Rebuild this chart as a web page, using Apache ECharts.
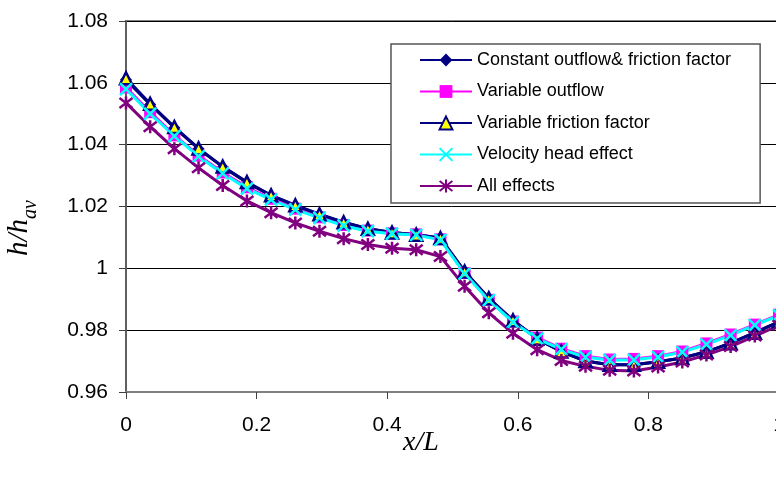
<!DOCTYPE html>
<html>
<head>
<meta charset="utf-8">
<script src="https://cdn.jsdelivr.net/npm/echarts@6/dist/echarts.min.js"></script>
<style>html,body{margin:0;padding:0;background:#fff}#c{width:776px;height:479px}</style>
</head>
<body>
<div id="c"></div>
<script>
var xPositions = [0, 0.0370, 0.0741, 0.1111, 0.1481, 0.1852, 0.2222, 0.2593, 0.2963, 0.3333, 0.3704, 0.4074, 0.4444, 0.4815, 0.5185, 0.5556, 0.5926, 0.6296, 0.6667, 0.7037, 0.7407, 0.7778, 0.8148, 0.8519, 0.8889, 0.9259, 0.9630, 1.0];

var constantOutflow = [1.061, 1.053, 1.0455, 1.0387, 1.0328, 1.0278, 1.0235, 1.0203, 1.0174, 1.0148, 1.0128, 1.0116, 1.0109, 1.0098, 0.999, 0.9903, 0.9832, 0.9772, 0.9731, 0.9700, 0.9688, 0.9688, 0.9698, 0.9710, 0.9730, 0.9758, 0.9792, 0.9827];
var variableOutflow = [1.0585, 1.0505, 1.043, 1.0365, 1.031, 1.0262, 1.0225, 1.0193, 1.0165, 1.014, 1.0122, 1.0113, 1.011, 1.0094, 0.9985, 0.9898, 0.9828, 0.9776, 0.9740, 0.9716, 0.9705, 0.9707, 0.9716, 0.9731, 0.9757, 0.9786, 0.9818, 0.9850];
var variableFriction = [1.0615, 1.0532, 1.0457, 1.0388, 1.0329, 1.0279, 1.0236, 1.0204, 1.0175, 1.0149, 1.0128, 1.0116, 1.0109, 1.0098, 0.999, 0.9903, 0.9832, 0.9772, 0.9731, 0.9700, 0.9688, 0.9688, 0.9698, 0.9710, 0.9730, 0.9758, 0.9792, 0.9827];
var velocityHead = [1.058, 1.050, 1.0428, 1.0362, 1.0307, 1.0258, 1.0222, 1.019, 1.0163, 1.0138, 1.012, 1.0112, 1.0108, 1.0092, 0.9983, 0.9897, 0.9826, 0.9773, 0.9738, 0.9713, 0.9703, 0.9704, 0.9713, 0.9729, 0.9754, 0.9783, 0.9816, 0.9848];
var allEffects = [1.0535, 1.0458, 1.0387, 1.0325, 1.0268, 1.0218, 1.018, 1.0147, 1.012, 1.0096, 1.0077, 1.0065, 1.006, 1.0038, 0.9942, 0.9856, 0.979, 0.9737, 0.9702, 0.9683, 0.9670, 0.9668, 0.9681, 0.9697, 0.9720, 0.9747, 0.9781, 0.9816];

var seriesNames = ['Constant outflow& friction factor', 'Variable outflow', 'Variable friction factor', 'Velocity head effect', 'All effects'];
var yTicks = {min: 0.96, max: 1.08, interval: 0.02};
var xTicks = {min: 0, max: 1, interval: 0.2};

function pairs(ys) { return xPositions.map(function (x, i) { return [x, ys[i]]; }); }

var FONT = '"Liberation Sans", Arial, sans-serif';
var chart = echarts.init(document.getElementById('c'), null, {renderer: 'canvas'});

var X_PATH = 'path://M0,0L10,10M10,0L0,10';
var STAR_PATH = 'path://M0,0L10,10M10,0L0,10M5,-1.5L5,11.5';

chart.setOption({
  animation: false,
  backgroundColor: '#ffffff',
  grid: {left: 126, top: 21, right: -3, bottom: 87, show: true, borderColor: '#808080', borderWidth: 2, backgroundColor: '#ffffff',
    outerBoundsMode: 'none', containLabel: false},
  xAxis: {
    type: 'value', min: xTicks.min, max: xTicks.max, interval: xTicks.interval,
    axisLine: {lineStyle: {color: '#808080', width: 2}},
    axisTick: {show: true, length: 7, lineStyle: {color: '#404040', width: 1}},
    axisLabel: {color: '#000', fontSize: 21, fontFamily: FONT, margin: 23},
    splitLine: {show: false}
  },
  yAxis: {
    type: 'value', min: yTicks.min, max: yTicks.max, interval: yTicks.interval,
    axisLine: {show: true, lineStyle: {color: '#606060', width: 2}},
    axisTick: {show: true, length: 7, lineStyle: {color: '#404040', width: 1}},
    axisLabel: {color: '#000', fontSize: 21, fontFamily: FONT, margin: 18},
    splitLine: {show: true, lineStyle: {color: '#000000', width: 1}}
  },
  legend: {
    orient: 'vertical', left: 391, top: 44,
    padding: [5, 29, 6, 28],
    backgroundColor: '#ffffff', borderColor: '#555555', borderWidth: 1.5,
    itemWidth: 52, itemHeight: 16, itemGap: 9.5,
    textStyle: {color: '#000', fontSize: 18, fontFamily: FONT, lineHeight: 22, padding: [0, 0, 0, 0]},
    data: seriesNames
  },
  graphic: [
    {type: 'text', x: 421, y: 443, z: 10,
      style: {text: 'x/L', font: 'italic 28px "Liberation Serif", "Times New Roman", serif', fill: '#000', align: 'center', verticalAlign: 'middle'}},
    {type: 'text', x: 23, y: 228, rotation: Math.PI / 2, z: 10,
      style: {text: '{a|h/h}{b|av}', align: 'center', verticalAlign: 'middle', fill: '#000',
        rich: {
          a: {fontFamily: '"Liberation Serif", "Times New Roman", serif', fontStyle: 'italic', fontSize: 29, lineHeight: 30, verticalAlign: 'top', fill: '#000'},
          b: {fontFamily: '"Liberation Serif", "Times New Roman", serif', fontStyle: 'italic', fontSize: 20, padding: [16, 0, 0, 0], verticalAlign: 'bottom', fill: '#000'}
        }}}
  ],
  series: [
    {name: seriesNames[0], type: 'line', data: pairs(constantOutflow), symbol: 'diamond', symbolSize: 12,
      lineStyle: {color: '#000080', width: 3}, itemStyle: {color: '#000080'}},
    {name: seriesNames[1], type: 'line', data: pairs(variableOutflow), symbol: 'rect', symbolSize: 12,
      lineStyle: {color: '#FF00FF', width: 3}, itemStyle: {color: '#FF00FF'}},
    {name: seriesNames[2], type: 'line', data: pairs(variableFriction), symbol: 'triangle', symbolSize: 12,
      lineStyle: {color: '#000080', width: 3}, itemStyle: {color: '#FFFF00', borderColor: '#000080', borderWidth: 2.5}},
    {name: seriesNames[3], type: 'line', data: pairs(velocityHead), symbol: X_PATH, symbolSize: 12,
      lineStyle: {color: '#00FFFF', width: 3}, itemStyle: {color: 'rgba(0,0,0,0)', borderColor: '#00FFFF', borderWidth: 2.5}},
    {name: seriesNames[4], type: 'line', data: pairs(allEffects), symbol: STAR_PATH, symbolSize: 13,
      lineStyle: {color: '#800080', width: 3}, itemStyle: {color: 'rgba(0,0,0,0)', borderColor: '#800080', borderWidth: 2.5}}
  ]
});
</script>
</body>
</html>
